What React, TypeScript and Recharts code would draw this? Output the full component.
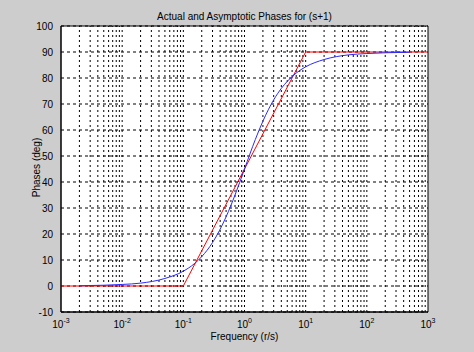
import React from "react"
import {
  LineChart,
  Line,
  XAxis,
  YAxis,
  CartesianGrid,
  ReferenceLine,
  ReferenceArea,
} from "recharts"

const actualFreq = [0.002, 0.005, 0.01, 0.02, 0.05, 0.1, 0.15, 0.2, 0.3, 0.5, 0.7, 1, 1.5, 2, 3, 4, 5, 7, 10, 20, 50, 100, 200, 500]
const actualPhase = [0.1, 0.3, 0.6, 1.1, 2.9, 5.7, 8.5, 11.3, 16.7, 26.6, 35, 45, 56.3, 63.4, 71.6, 76, 78.7, 81.9, 84.3, 87.1, 88.9, 89.4, 89.7, 89.9]

// asymptotic approximation (red)
const asymFreq = [0.001, 0.1, 10, 1000]
const asymPhase = [0, 0, 90, 90]

const xTicks = [0.001, 0.01, 0.1, 1, 10, 100, 1000]
const yTicks = [-10, 0, 10, 20, 30, 40, 50, 60, 70, 80, 90, 100]

const actualData = actualFreq.map((w, i) => ({ w, phase: actualPhase[i] }))
const asymData = asymFreq.map((w, i) => ({ w, phase: asymPhase[i] }))

// vertical grid at every 1..9 multiple of each decade
const minorLines: number[] = []
for (let e = -3; e < 3; e++) {
  for (let m = 1; m < 10; m++) {
    if (e === -3 && m === 1) continue
    minorLines.push(Number((m * Math.pow(10, e)).toPrecision(3)))
  }
}

const FONT = "'Liberation Sans', Arial, sans-serif"

function LogTick({ x, y, payload }: any) {
  const exp = Math.round(Math.log10(payload.value))
  return (
    <text x={x} y={y + 8} textAnchor="middle" fontSize={10} fontFamily={FONT} fill="#000">
      <tspan>10</tspan>
      <tspan dy={-5} fontSize={7}>{exp}</tspan>
    </text>
  )
}

export default function App() {
  return (
    <div
      style={{
        position: "absolute",
        left: 0,
        top: 0,
        width: 474,
        height: 352,
        background: "#cdcdcd",
        fontFamily: FONT,
      }}
    >
      <div
        style={{
          position: "absolute",
          top: 11,
          left: 61,
          width: 367,
          textAlign: "center",
          fontSize: 10,
          color: "#000",
        }}
      >
        Actual and Asymptotic Phases for (s+1)
      </div>
      <div
        style={{
          position: "absolute",
          top: 331,
          left: 61,
          width: 367,
          textAlign: "center",
          fontSize: 10,
          color: "#000",
        }}
      >
        Frequency (r/s)
      </div>
      <div
        style={{
          position: "absolute",
          left: 36 - 60,
          top: 169 - 7,
          width: 120,
          textAlign: "center",
          fontSize: 10,
          color: "#000",
          transform: "rotate(-90deg)",
        }}
      >
        Phases (deg)
      </div>
      <LineChart
        width={474}
        height={352}
        margin={{ top: 26, right: 46, left: 0, bottom: 0 }}
      >
        <CartesianGrid
          vertical={false}
          stroke="#000"
          strokeDasharray="3 3"
          fill="#fff"
          fillOpacity={1}
        />
        <XAxis
          dataKey="w"
          type="number"
          scale="log"
          domain={[0.001, 1000]}
          ticks={xTicks}
          allowDataOverflow
          tick={<LogTick />}
          tickLine={false}
          axisLine={{ stroke: "#000" }}
          height={40}
        />
        <YAxis
          type="number"
          domain={[-10, 100]}
          ticks={yTicks}
          tick={{ fontSize: 10, fill: "#000", fontFamily: FONT }}
          tickLine={false}
          axisLine={{ stroke: "#000" }}
          width={61}
        />
        {minorLines.map((v) => (
          <ReferenceLine key={v} x={v} stroke="#000" strokeDasharray="2 3" />
        ))}
        <ReferenceArea
          x1={0.001}
          x2={1000}
          y1={-10}
          y2={100}
          fill="none"
          stroke="#000"
          strokeOpacity={1}
          fillOpacity={0}
        />
        <Line
          data={asymData}
          dataKey="phase"
          type="linear"
          stroke="#ff0000"
          strokeWidth={1}
          dot={false}
          isAnimationActive={false}
        />
        <Line
          data={actualData}
          dataKey="phase"
          type="monotone"
          stroke="#2a2aff"
          strokeWidth={1}
          dot={false}
          isAnimationActive={false}
        />
      </LineChart>
    </div>
  )
}
